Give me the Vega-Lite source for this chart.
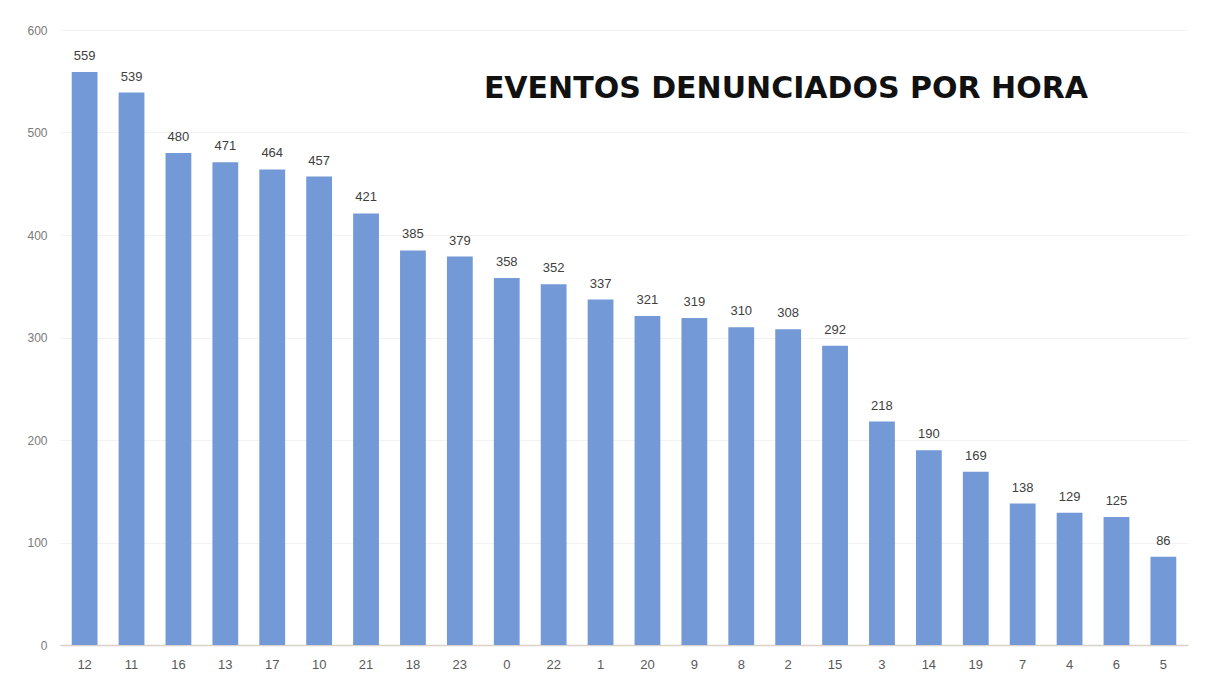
{
  "$schema": "https://vega.github.io/schema/vega-lite/v6.json",
  "width": 1128,
  "height": 615,
  "autosize": {"type": "none"},
  "padding": {"left": 60, "top": 30, "right": 20, "bottom": 41},
  "background": "white",
  "title": {
    "text": "EVENTOS DENUNCIADOS POR HORA",
    "anchor": "end",
    "frame": "group",
    "font": "DejaVu Sans",
    "fontSize": 30,
    "fontWeight": "bold",
    "color": "#111111",
    "dx": -100,
    "dy": 84
  },
  "data": {
    "values": [
      {"hora": "12", "eventos": 559},
      {"hora": "11", "eventos": 539},
      {"hora": "16", "eventos": 480},
      {"hora": "13", "eventos": 471},
      {"hora": "17", "eventos": 464},
      {"hora": "10", "eventos": 457},
      {"hora": "21", "eventos": 421},
      {"hora": "18", "eventos": 385},
      {"hora": "23", "eventos": 379},
      {"hora": "0", "eventos": 358},
      {"hora": "22", "eventos": 352},
      {"hora": "1", "eventos": 337},
      {"hora": "20", "eventos": 321},
      {"hora": "9", "eventos": 319},
      {"hora": "8", "eventos": 310},
      {"hora": "2", "eventos": 308},
      {"hora": "15", "eventos": 292},
      {"hora": "3", "eventos": 218},
      {"hora": "14", "eventos": 190},
      {"hora": "19", "eventos": 169},
      {"hora": "7", "eventos": 138},
      {"hora": "4", "eventos": 129},
      {"hora": "6", "eventos": 125},
      {"hora": "5", "eventos": 86}
    ]
  },
  "encoding": {
    "x": {
      "field": "hora",
      "type": "nominal",
      "sort": null,
      "scale": {"paddingInner": 0.45, "paddingOuter": 0.25},
      "axis": {
        "title": null,
        "labelAngle": 0,
        "ticks": false,
        "domainColor": "#d9d2c9",
        "domainWidth": 1.5,
        "labelFont": "Liberation Sans",
        "labelFontSize": 13,
        "labelColor": "#595959",
        "labelPadding": 13
      }
    },
    "y": {
      "field": "eventos",
      "type": "quantitative",
      "scale": {"domain": [0, 600]},
      "axis": {
        "title": null,
        "values": [0, 100, 200, 300, 400, 500, 600],
        "ticks": false,
        "domain": false,
        "gridColor": "#f2f2f2",
        "labelFont": "Liberation Sans",
        "labelFontSize": 12,
        "labelColor": "#7a7a7a",
        "labelPadding": 13
      }
    }
  },
  "layer": [
    {"mark": {"type": "bar", "color": "#7399d7"}},
    {
      "mark": {
        "type": "text",
        "baseline": "bottom",
        "dy": -9,
        "font": "Liberation Sans",
        "fontSize": 13,
        "color": "#404040"
      },
      "encoding": {"text": {"field": "eventos", "type": "quantitative"}}
    }
  ],
  "config": {"view": {"stroke": null}}
}
